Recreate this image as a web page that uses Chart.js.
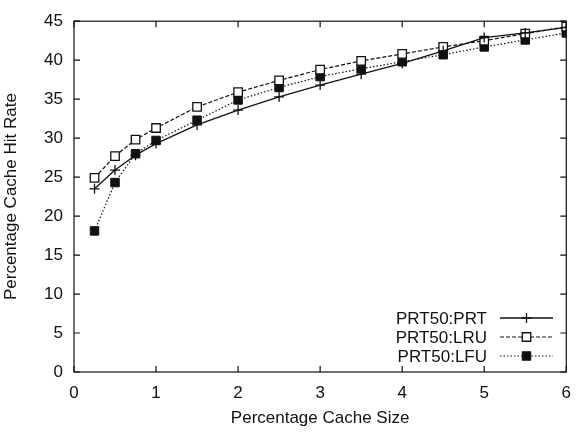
<!DOCTYPE html>
<html>
<head>
<meta charset="utf-8">
<script src="https://cdn.jsdelivr.net/npm/chart.js@4/dist/chart.umd.min.js"></script>
<style>
  html, body { margin: 0; padding: 0; background: #fff; }
  #wrap { width: 582px; height: 435px; }
</style>
</head>
<body>
<div id="wrap"><canvas id="hit-chart" width="582" height="435"></canvas></div>
<script>
// cache size (percent) on x
let cacheSizes = [0.25, 0.5, 0.75, 1, 1.5, 2, 2.5, 3, 3.5, 4, 4.5, 5, 5.5, 6];

// hit rates
let prtHits = [23.5, 25.9, 27.8, 29.3, 31.7, 33.6, 35.3, 36.8, 38.2, 39.6, 41.2, 42.9, 43.5, 44.2];
let lruHits = [24.9, 27.7, 29.8, 31.3, 34.0, 35.9, 37.4, 38.8, 39.9, 40.8, 41.7, 42.5, 43.4, 44.3];
let lfuHits = [18.1, 24.3, 28.0, 29.7, 32.3, 34.9, 36.5, 37.9, 38.9, 39.8, 40.7, 41.7, 42.6, 43.5];

let seriesNames = ['PRT50:PRT', 'PRT50:LRU', 'PRT50:LFU'];
let xTicks = [0, 1, 2, 3, 4, 5, 6];
let yTicks = [0, 5, 10, 15, 20, 25, 30, 35, 40, 45];

let fontFamily = '"Liberation Sans", Arial, sans-serif';
let ink = '#111';

function toPoints(vals) {
  return cacheSizes.map((x, i) => ({ x: x, y: vals[i] }));
}

// gnuplot style frame with inward ticks on all four sides
let framePlugin = {
  id: 'frame',
  afterDraw(chart) {
    let ctx = chart.ctx;
    let a = chart.chartArea;
    let xs = chart.scales.x, ys = chart.scales.y;
    ctx.save();
    ctx.strokeStyle = ink;
    ctx.lineWidth = 1.2;
    ctx.strokeRect(a.left, a.top, a.right - a.left, a.bottom - a.top);
    ctx.beginPath();
    xTicks.forEach(v => {
      let px = xs.getPixelForValue(v);
      ctx.moveTo(px, a.bottom); ctx.lineTo(px, a.bottom - 6);
      ctx.moveTo(px, a.top); ctx.lineTo(px, a.top + 6);
    });
    yTicks.forEach(v => {
      let py = ys.getPixelForValue(v);
      ctx.moveTo(a.left, py); ctx.lineTo(a.left + 6, py);
      ctx.moveTo(a.right, py); ctx.lineTo(a.right - 6, py);
    });
    ctx.stroke();
    ctx.restore();
  }
};

// legend inside the plot, bottom right, text right aligned then sample
let keyPlugin = {
  id: 'key',
  afterDatasetsDraw(chart) {
    let ctx = chart.ctx;
    let textRight = 487, lineL = 500, lineR = 553, rows = [318, 337, 356];
    ctx.save();
    ctx.font = '17px ' + fontFamily;
    ctx.textAlign = 'right';
    ctx.textBaseline = 'middle';
    chart.data.datasets.forEach((ds, i) => {
      let y = rows[i];
      ctx.fillStyle = ink;
      ctx.fillText(ds.label, textRight, y + 1);
      ctx.strokeStyle = ds.borderColor;
      ctx.lineWidth = ds.borderWidth;
      ctx.setLineDash(ds.borderDash || []);
      ctx.beginPath();
      ctx.moveTo(lineL, y); ctx.lineTo(lineR, y);
      ctx.stroke();
      ctx.setLineDash([]);
      ctx.fillStyle = ds.pointBackgroundColor;
      ctx.strokeStyle = ds.pointBorderColor;
      ctx.lineWidth = ds.pointBorderWidth;
      Chart.helpers.drawPoint(ctx, {
        pointStyle: ds.pointStyle,
        radius: ds.pointRadius,
        borderWidth: ds.pointBorderWidth,
        rotation: 0
      }, (lineL + lineR) / 2, y);
    });
    ctx.restore();
  }
};

let renderChart = () => {
  let ctx = document.getElementById('hit-chart').getContext('2d');

  new Chart(ctx, {
    type: 'line',
    data: {
      datasets: [
        {
          label: seriesNames[0],
          data: toPoints(prtHits),
          borderColor: ink,
          borderWidth: 1.3,
          pointStyle: 'cross',
          pointRadius: 5,
          pointBorderWidth: 1.3,
          pointBorderColor: ink,
          pointBackgroundColor: ink,
          tension: 0,
        },
        {
          label: seriesNames[1],
          data: toPoints(lruHits),
          borderColor: ink,
          borderWidth: 1.2,
          borderDash: [4, 2],
          pointStyle: 'rect',
          pointRadius: 6,
          pointBorderWidth: 1.3,
          pointBorderColor: ink,
          pointBackgroundColor: '#fff',
          tension: 0,
        },
        {
          label: seriesNames[2],
          data: toPoints(lfuHits),
          borderColor: ink,
          borderWidth: 1.2,
          borderDash: [1.5, 2],
          pointStyle: 'rect',
          pointRadius: 6,
          pointBorderWidth: 1,
          pointBorderColor: ink,
          pointBackgroundColor: ink,
          tension: 0,
        },
      ],
    },
    options: {
      responsive: false,
      animation: false,
      layout: { padding: { top: 19, right: 8, left: 0, bottom: 0 } },
      plugins: {
        legend: { display: false },
        tooltip: { enabled: false },
      },
      scales: {
        x: {
          type: 'linear',
          min: 0,
          max: 6,
          afterFit: s => { s.height = 63; },
          afterBuildTicks: s => { s.ticks = xTicks.map(v => ({ value: v })); },
          grid: { display: false, drawTicks: false },
          border: { display: false },
          ticks: { padding: 11, color: ink, font: { family: fontFamily, size: 17 } },
          title: {
            display: true,
            text: 'Percentage Cache Size',
            color: ink,
            font: { family: fontFamily, size: 17 },
            padding: { top: 0, bottom: 6 },
          },
        },
        y: {
          min: 0,
          max: 45,
          afterFit: s => { s.width = 74; },
          afterBuildTicks: s => { s.ticks = yTicks.map(v => ({ value: v })); },
          grid: { display: false, drawTicks: false },
          border: { display: false },
          ticks: { padding: 11, color: ink, font: { family: fontFamily, size: 17 } },
          title: {
            display: true,
            text: 'Percentage Cache Hit Rate',
            color: ink,
            font: { family: fontFamily, size: 17 },
            padding: { top: 1, bottom: 0 },
          },
        },
      },
    },
    plugins: [framePlugin, keyPlugin],
  });
};

renderChart();
</script>
</body>
</html>
